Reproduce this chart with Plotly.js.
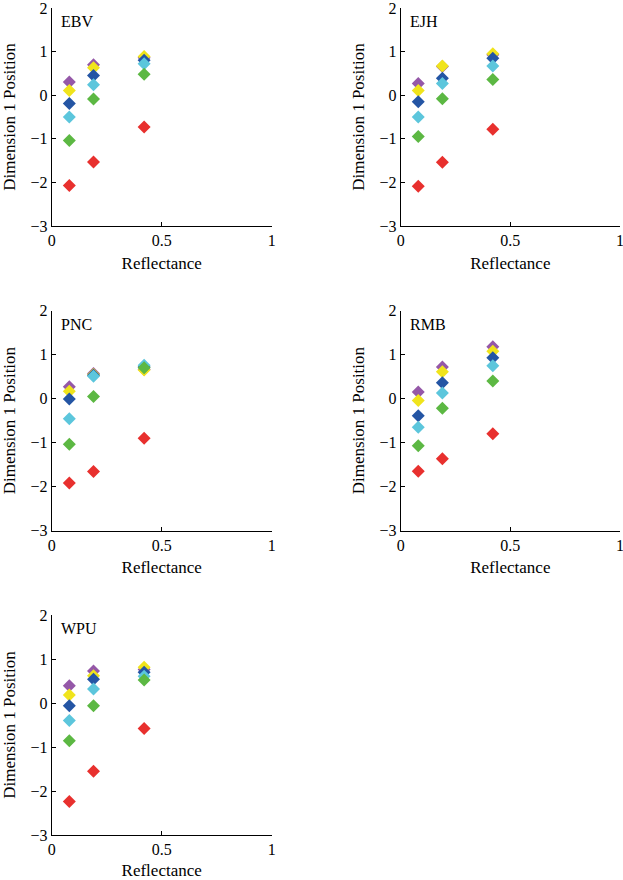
<!DOCTYPE html>
<html>
<head>
<meta charset="utf-8">
<script src="https://cdn.plot.ly/plotly-3.0.1.min.js"></script>
<style>html,body{margin:0;padding:0;background:#fff;}#chart{width:623px;height:880px;}</style>
</head>
<body>
<div id="chart"></div>
<script>
// Reflectance levels (x values)
const reflectance = [0.08, 0.19, 0.42];
// Series order: purple, yellow, blue, cyan, green, red
const seriesColors = ['#9558A8', '#F0E41C', '#2455A4', '#5CC6DC', '#5CB843', '#E8302E'];
const subjects = ['EBV', 'EJH', 'PNC', 'RMB', 'WPU'];

const EBV = [
  [0.30, 0.70, 0.86],
  [0.11, 0.63, 0.89],
  [-0.19, 0.45, 0.80],
  [-0.50, 0.24, 0.72],
  [-1.04, -0.09, 0.48],
  [-2.07, -1.53, -0.73]
];
const EJH = [
  [0.27, 0.66, 0.93],
  [0.11, 0.67, 0.95],
  [-0.15, 0.39, 0.85],
  [-0.50, 0.27, 0.67],
  [-0.95, -0.08, 0.36],
  [-2.09, -1.54, -0.78]
];
const PNC = [
  [0.27, 0.57, 0.66],
  [0.17, 0.55, 0.65],
  [-0.01, 0.53, 0.72],
  [-0.46, 0.51, 0.76],
  [-1.04, 0.05, 0.70],
  [-1.92, -1.66, -0.90]
];
const RMB = [
  [0.15, 0.72, 1.18],
  [-0.04, 0.61, 1.08],
  [-0.39, 0.36, 0.93],
  [-0.65, 0.13, 0.75],
  [-1.07, -0.22, 0.40],
  [-1.65, -1.37, -0.80]
];
const WPU = [
  [0.39, 0.73, 0.76],
  [0.18, 0.62, 0.81],
  [-0.06, 0.54, 0.70],
  [-0.40, 0.32, 0.61],
  [-0.86, -0.06, 0.52],
  [-2.24, -1.55, -0.58]
];
const subjectData = [EBV, EJH, PNC, RMB, WPU];

const xTicks = [0, 0.5, 1];
const xTickText = ['0', '0.5', '1'];
const yTicks = [-3, -2, -1, 0, 1, 2];

const W = 623, H = 880;
// panel pixel boxes [left, right, top, bottom]
const boxes = [
  [51.7, 271.7, 8.0, 226.0],
  [400.7, 620.0, 8.0, 226.0],
  [51.7, 271.7, 310.7, 530.5],
  [400.7, 620.0, 310.7, 530.5],
  [51.7, 271.7, 615.0, 835.0]
];

const FONT = '"Times New Roman", "Liberation Serif", serif';
const traces = [];
const layout = {
  width: W, height: H,
  margin: {l: 0, r: 0, t: 0, b: 0},
  paper_bgcolor: '#fff', plot_bgcolor: 'rgba(0,0,0,0)',
  showlegend: false,
  font: {family: FONT, size: 16, color: '#000'},
  annotations: []
};

subjectData.forEach((data, si) => {
  const n = si + 1;
  const xa = n === 1 ? 'x' : 'x' + n;
  const ya = n === 1 ? 'y' : 'y' + n;
  data.forEach((vals, ci) => {
    traces.push({
      type: 'scatter', mode: 'markers',
      x: reflectance, y: vals,
      xaxis: xa, yaxis: ya,
      cliponaxis: false,
      marker: {symbol: 'diamond', size: 10, color: seriesColors[ci], line: {width: 0}},
      hoverinfo: 'x+y'
    });
  });
  const b = boxes[si];
  const common = {
    showline: true, linecolor: '#000', linewidth: 1,
    ticks: 'inside', ticklen: 4, tickcolor: '#000', tickwidth: 1,
    showgrid: false, zeroline: false,
    ticklabeloverflow: 'allow',
    tickfont: {family: FONT, size: 16, color: '#000'}
  };
  layout['xaxis' + (n === 1 ? '' : n)] = Object.assign({}, common, {
    domain: [b[0] / W, b[1] / W],
    anchor: ya,
    range: [0, 1],
    tickmode: 'array', tickvals: xTicks, ticktext: xTickText,
    title: {text: 'Reflectance', font: {family: FONT, size: 17, color: '#000'}, standoff: 8}
  });
  layout['yaxis' + (n === 1 ? '' : n)] = Object.assign({}, common, {
    domain: [1 - b[3] / H, 1 - b[2] / H],
    anchor: xa,
    range: [-3, 2],
    tickmode: 'array', tickvals: yTicks,
    title: {text: 'Dimension 1 Position', font: {family: FONT, size: 17, color: '#000'}, standoff: 10}
  });
  layout.annotations.push({
    text: subjects[si], showarrow: false,
    xref: xa + ' domain', yref: ya + ' domain',
    x: 0.035, y: 0.985, xanchor: 'left', yanchor: 'top',
    font: {family: FONT, size: 16, color: '#000'}
  });
});

Plotly.newPlot('chart', traces, layout, {displayModeBar: false, staticPlot: true});
</script>
</body>
</html>
